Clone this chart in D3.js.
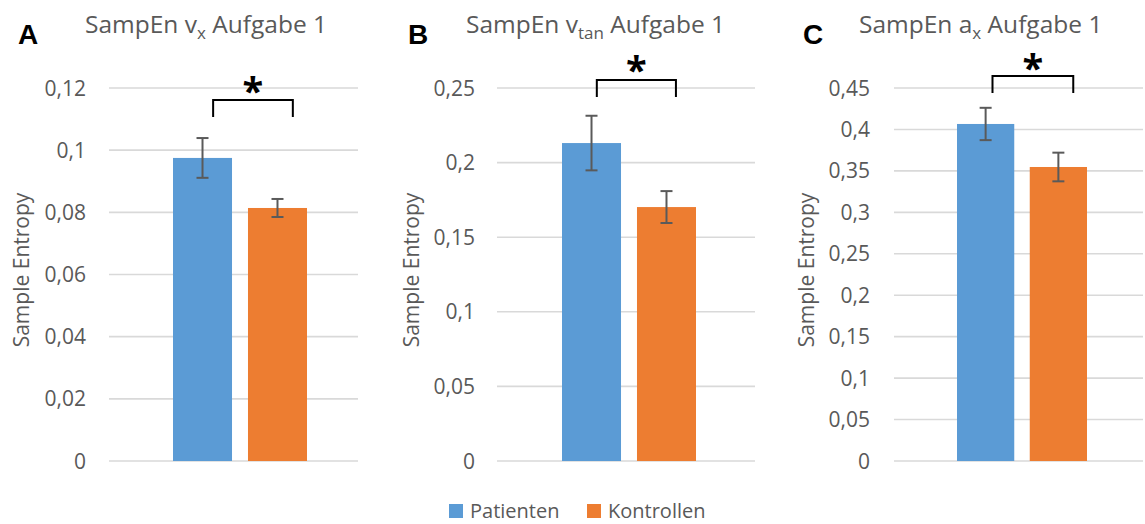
<!DOCTYPE html>
<html>
<head>
<meta charset="utf-8">
<script src="https://cdn.jsdelivr.net/npm/d3@7"></script>
<style>
  html, body { margin: 0; padding: 0; background: #fff; }
  svg { display: block; font-family: "Open Sans", Lato, sans-serif; }
</style>
</head>
<body>
<svg id="chart" width="1145" height="524"></svg>
<script>
// Groups compared in every panel
const groups = ["Patienten", "Kontrollen"];

// Panel A: SampEn v_x, Aufgabe 1
const vxMeans = [0.0975, 0.0814];
const vxErrors = [0.0064, 0.0029];
const vxTicks = [0, 0.02, 0.04, 0.06, 0.08, 0.1, 0.12];

// Panel B: SampEn v_tan, Aufgabe 1
const vtanMeans = [0.2131, 0.1702];
const vtanErrors = [0.0183, 0.0107];
const vtanTicks = [0, 0.05, 0.1, 0.15, 0.2, 0.25];

// Panel C: SampEn a_x, Aufgabe 1
const axMeans = [0.4066, 0.3547];
const axErrors = [0.0195, 0.0173];
const axTicks = [0, 0.05, 0.1, 0.15, 0.2, 0.25, 0.3, 0.35, 0.4, 0.45];

const panelLetters = ["A", "B", "C"];
const titleSubscripts = ["x", "tan", "x"];
const titleBases = ["v", "v", "a"];
const significance = ["*", "*", "*"];
const yTitle = "Sample Entropy";

const colors = { Patienten: "#5B9BD5", Kontrollen: "#ED7D31" };
const textGrey = "#595959";

const de = d3.formatLocale({ decimal: ",", thousands: ".", grouping: [3], currency: ["", " €"] });
const fmt = de.format(".2~f");

const svg = d3.select("#chart");

// layout of each panel (bracket ends given as fraction along each bar)
const layouts = [
  { left: 109, right: 358, barL: 173, barR: 307, letterX: 18, titleX: 85, yTitleX: 22, tickX: 86, bracketY: 100, bf: [0.68, 0.76], starY: 83 },
  { left: 497, right: 755, barL: 562, barR: 696, letterX: 408, titleX: 466, yTitleX: 412, tickX: 475, bracketY: 80, bf: [0.59, 0.66], starY: 62 },
  { left: 894, right: 1143, barL: 957, barR: 1087, letterX: 803, titleX: 859, yTitleX: 807, tickX: 870, bracketY: 76, bf: [0.62, 0.76], starY: 60 }
];
const plotTop = 88, plotBottom = 461;

const panels = [
  { means: vxMeans, errors: vxErrors, ticks: vxTicks },
  { means: vtanMeans, errors: vtanErrors, ticks: vtanTicks },
  { means: axMeans, errors: axErrors, ticks: axTicks }
];

panels.forEach((p, i) => {
  const L = layouts[i];
  const g = svg.append("g");
  const maxTick = p.ticks[p.ticks.length - 1];

  const y = d3.scaleLinear().domain([0, maxTick]).range([plotBottom, plotTop]);
  const x = d3.scaleBand().domain(groups).range([L.barL, L.barR]).paddingInner(0.213);

  // gridlines
  g.append("g").selectAll("line").data(p.ticks).join("line")
    .attr("x1", L.left).attr("x2", L.right)
    .attr("y1", d => y(d)).attr("y2", d => y(d))
    .attr("stroke", "#D9D9D9").attr("stroke-width", 1.6);

  // tick labels
  g.append("g").selectAll("text").data(p.ticks).join("text")
    .attr("x", L.tickX).attr("y", d => y(d))
    .attr("dy", "0.36em")
    .attr("text-anchor", "end")
    .attr("fill", textGrey)
    .attr("font-size", 21)
    .text(d => fmt(d));

  // bars
  g.append("g").selectAll("rect").data(groups).join("rect")
    .attr("x", d => x(d))
    .attr("width", x.bandwidth())
    .attr("y", (d, j) => y(p.means[j]))
    .attr("height", (d, j) => y(0) - y(p.means[j]))
    .attr("fill", d => colors[d]);

  // error bars
  const eb = g.append("g").attr("stroke", "#5A5A5A").attr("stroke-width", 2);
  groups.forEach((d, j) => {
    const cx = x(d) + x.bandwidth() / 2;
    const hi = y(p.means[j] + p.errors[j]);
    const lo = y(p.means[j] - p.errors[j]);
    eb.append("line").attr("x1", cx).attr("x2", cx).attr("y1", hi).attr("y2", lo);
    eb.append("line").attr("x1", cx - 6).attr("x2", cx + 6).attr("y1", hi).attr("y2", hi);
    eb.append("line").attr("x1", cx - 6).attr("x2", cx + 6).attr("y1", lo).attr("y2", lo);
  });

  // significance bracket
  const bx1 = x(groups[0]) + x.bandwidth() * L.bf[0];
  const bx2 = x(groups[1]) + x.bandwidth() * L.bf[1];
  const by = L.bracketY;
  g.append("path")
    .attr("d", `M${bx1},${by + 17}V${by}H${bx2}V${by + 17}`)
    .attr("fill", "none").attr("stroke", "#000").attr("stroke-width", 2);
  g.append("text")
    .attr("x", (bx1 + bx2) / 2).attr("y", L.starY + 0.57 * 38)
    .attr("text-anchor", "middle")
    .attr("font-size", 38).attr("font-weight", "bold")
    .attr("fill", "#000")
    .text(significance[i]);

  // panel letter
  g.append("text")
    .attr("x", L.letterX).attr("y", 44)
    .attr("font-size", 28).attr("font-weight", "bold")
    .attr("font-family", "Liberation Sans, Arial, sans-serif")
    .attr("fill", "#000")
    .text(panelLetters[i]);

  // title with subscript
  const t = g.append("text")
    .attr("x", L.titleX).attr("y", 33)
    .attr("font-size", 24.5).attr("fill", textGrey);
  t.append("tspan").text("SampEn " + titleBases[i]);
  t.append("tspan").attr("dy", 6).attr("font-size", 17).text(titleSubscripts[i]);
  t.append("tspan").attr("dy", -6).text(" Aufgabe 1");

  // y-axis title
  g.append("text")
    .attr("transform", `translate(${L.yTitleX + 7},270) rotate(-90)`)
    .attr("text-anchor", "middle")
    .attr("font-size", 21).attr("fill", textGrey)
    .text(yTitle);
});

// legend
const legend = svg.append("g");
const legendX = [449, 587];
groups.forEach((d, j) => {
  legend.append("rect").attr("x", legendX[j]).attr("y", 504).attr("width", 14).attr("height", 14).attr("fill", colors[d]);
  legend.append("text").attr("x", legendX[j] + 21).attr("y", 518)
    .attr("font-size", 20).attr("fill", textGrey).text(d);
});
</script>
</body>
</html>
